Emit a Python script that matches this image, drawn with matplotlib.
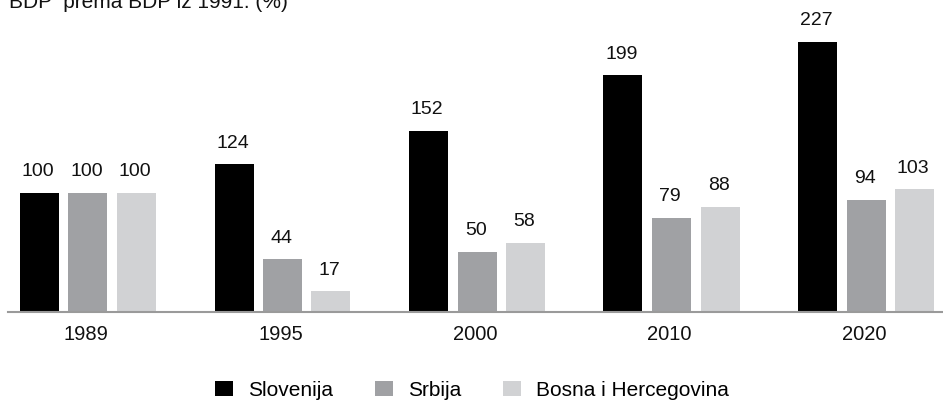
import matplotlib
matplotlib.use("Agg")
import matplotlib.pyplot as plt
import matplotlib.transforms as mtransforms
from matplotlib.patches import Patch

plt.rcParams['font.family'] = ['Liberation Sans', 'DejaVu Sans']

years = ["1989", "1995", "2000", "2010", "2020"]
series_names = ["Slovenija", "Srbija", "Bosna i Hercegovina"]
slovenija = [100, 124, 152, 199, 227]
srbija = [100, 44, 50, 79, 94]
bih = [100, 17, 58, 88, 103]
title = "BDP  prema BDP iz 1991. (%)"

colors = ["#000000", "#a0a1a4", "#d1d2d4"]
W, H = 943, 401
fig = plt.figure(figsize=(W / 100, H / 100), dpi=100)
base_px = 311.5
ax = fig.add_axes([0, 1 - base_px / H, 1, base_px / H])
px_per_unit = 1.187
ax.set_ylim(0, base_px / px_per_unit)
c0, step = 88.0, 194.5
ax.set_xlim(-c0 / step, (W - c0) / step)
ax.axis('off')

bw = 39 / step
off = 48.5 / step
fs = 14
for si, (vals, col) in enumerate(zip([slovenija, srbija, bih], colors)):
    xs = [i + (si - 1) * off for i in range(len(years))]
    ax.bar(xs, vals, width=bw, color=col, linewidth=0)
    for x, v in zip(xs, vals):
        ax.annotate(str(v), (x, v), xytext=(-1, 12), textcoords='offset points',
                    ha='center', va='baseline', fontsize=fs, color='#111111')

ax.axhline(0, xmin=8 / W, xmax=1, color='#9a9a9a', linewidth=1.5, clip_on=False)

tr = mtransforms.blended_transform_factory(ax.transData, fig.transFigure)
for i, y in enumerate(years):
    ax.text(i - 2 / step, 1 - 340 / H, y, transform=tr, ha='center', va='baseline',
            fontsize=14.5, color='#111111')

fig.text(9 / W, 1 - 8 / H, title, ha='left', va='baseline', fontsize=15, color='#111111')

lfs = 15
handles = [Patch(facecolor=c, edgecolor='none') for c in colors]
fpx = lfs * 100 / 72
fig.legend(handles, series_names, ncol=3, loc='center left',
           bbox_to_anchor=(215 / W, 1 - 390.5 / H), frameon=False, fontsize=lfs,
           handlelength=18 / fpx, handleheight=15 / fpx, handletextpad=15 / fpx,
           columnspacing=42 / fpx, borderpad=0, borderaxespad=0)

fig.savefig("out.png", dpi=100)
